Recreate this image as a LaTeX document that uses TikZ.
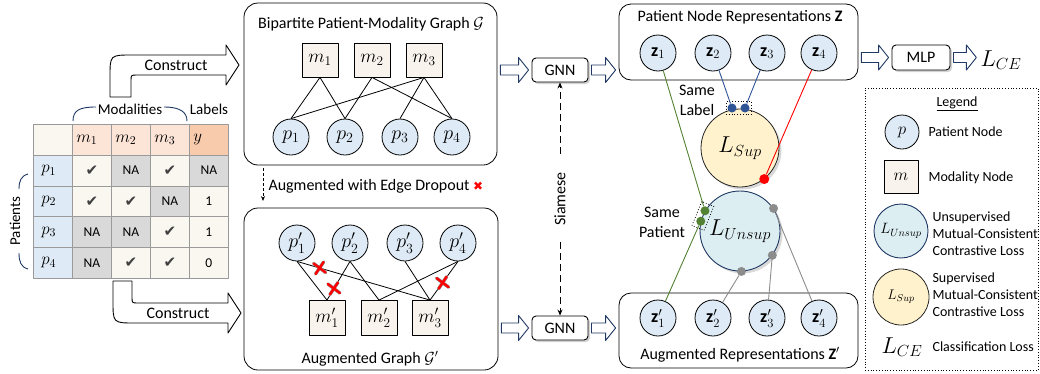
\documentclass[tikz,border=0pt]{standalone}
\usepackage{fix-cm}
\usepackage{amsmath}
\usepackage{fontspec}
\setmainfont{Carlito}
\newfontfamily\djv{DejaVu Sans}
\usetikzlibrary{shadows,arrows.meta,calc}
\newcommand{\fsz}[2]{\fontsize{#1}{#2}\selectfont}
\newcommand{\ck}{{\djv\fsz{15}{17}\textcolor{darkck}{✔}}}
\definecolor{pfill}{HTML}{DEEBF7}
\definecolor{mfill}{HTML}{F8F4ED}
\definecolor{hdr}{HTML}{FCE4D6}
\definecolor{yhdr}{HTML}{F8CBAD}
\definecolor{cream}{HTML}{FAF7F1}
\definecolor{nagray}{HTML}{D9D9D9}
\definecolor{tgray}{HTML}{9A9A9A}
\definecolor{navy}{HTML}{1F3864}
\definecolor{supfill}{HTML}{FFF2CC}
\definecolor{unsupfill}{HTML}{DDEEF3}
\definecolor{zgreen}{HTML}{548235}
\definecolor{zblue}{HTML}{2F5597}
\definecolor{zgray}{HTML}{8C8C8C}
\definecolor{arrowblue}{HTML}{203864}
\definecolor{darkck}{HTML}{404040}
\newcommand{\blockarrow}[2]{%
  \draw[harrow] let \p1=#1, \p2=#2 in
  (\x1+3pt,\y1+5pt) -- (\x2-13pt,\y1+5pt) -- (\x2-13pt,\y1+12.5pt) -- (\x2-3pt,\y1)
  -- (\x2-13pt,\y1-12.5pt) -- (\x2-13pt,\y1-5pt) -- (\x1+3pt,\y1-5pt) -- cycle;}
\begin{document}
\begin{tikzpicture}[x=1pt,y=-1pt,font=\fsz{16}{19},line join=round,
  pnode/.style={circle,draw,line width=0.8pt,fill=pfill,minimum size=36pt,inner sep=0pt,font=\fsz{20}{23}},
  mnode/.style={rectangle,draw,line width=0.8pt,fill=mfill,minimum width=36pt,minimum height=34pt,inner sep=0pt,font=\fsz{19}{22}},
  znode/.style={circle,draw,line width=0.8pt,fill=pfill,minimum size=36pt,inner sep=0pt,font=\fsz{18}{21}},
  gbox/.style={draw,line width=0.8pt,rounded corners=14pt},
  nnbox/.style={draw,line width=0.9pt,rounded corners=4pt,fill=white,minimum width=56pt,minimum height=24pt,inner sep=0pt,
     drop shadow={shadow xshift=2pt,shadow yshift=-2pt,opacity=0.35}},
  harrow/.style={draw=arrowblue,line width=0.9pt,fill=white},
  edge/.style={line width=0.8pt},
  cell/.style={draw=tgray,line width=0.6pt,minimum width=39pt,minimum height=30.8pt,inner xsep=2pt,inner ysep=0pt,
     text width=35pt,align=center,anchor=north west,font=\fsz{13.5}{16}},
  hcell/.style={cell,align=left,inner xsep=4pt,text width=31pt,font=\fsz{17}{20}},
  pcell/.style={cell,fill=pfill,align=left,inner xsep=8pt,text width=23pt,font=\fsz{17}{20}},
  ckc/.style={cell,fill=cream},
  nac/.style={cell,fill=nagray},
  lsup/.style={circle,draw=black!85,line width=0.8pt,fill=supfill,minimum size=78pt,inner sep=0pt,font=\fsz{23}{27},
     drop shadow={shadow xshift=2.5pt,shadow yshift=-2.5pt,opacity=0.3}},
  lunsup/.style={circle,draw=navy,line width=0.9pt,fill=unsupfill,minimum size=80pt,inner sep=0pt,font=\fsz{23}{27},
     drop shadow={shadow xshift=2.5pt,shadow yshift=-2.5pt,opacity=0.3}},
  dotn/.style={circle,inner sep=0pt,minimum size=9pt},
  siamdash/.style={line width=0.8pt,dash pattern=on 7pt off 4pt},
  legtext/.style={anchor=west,align=left,font=\fsz{14}{17}}
]
\useasboundingbox (0,0) rectangle (1040,373);

% ---------- table ----------
\node[cell,fill=cream] (t00) at (33,124) {};
\node[hcell,fill=hdr] (t01) at (72,124) {$m_1$};
\node[hcell,fill=hdr] (t02) at (111,124) {$m_2$};
\node[hcell,fill=hdr] (t03) at (150,124) {$m_3$};
\node[hcell,fill=yhdr] (t04) at (189,124) {$y$};
\node[pcell] (t10) at (33,154.8) {$p_1$};
\node[ckc] (t11) at (72,154.8) {\ck};
\node[nac] (t12) at (111,154.8) {NA};
\node[ckc] (t13) at (150,154.8) {\ck};
\node[nac] (t14) at (189,154.8) {NA};
\node[pcell] (t20) at (33,185.6) {$p_2$};
\node[ckc] (t21) at (72,185.6) {\ck};
\node[ckc] (t22) at (111,185.6) {\ck};
\node[nac] (t23) at (150,185.6) {NA};
\node[ckc] (t24) at (189,185.6) {1};
\node[pcell] (t30) at (33,216.4) {$p_3$};
\node[nac] (t31) at (72,216.4) {NA};
\node[nac] (t32) at (111,216.4) {NA};
\node[ckc] (t33) at (150,216.4) {\ck};
\node[ckc] (t34) at (189,216.4) {1};
\node[pcell] (t40) at (33,247.2) {$p_4$};
\node[nac] (t41) at (72,247.2) {NA};
\node[ckc] (t42) at (111,247.2) {\ck};
\node[ckc] (t43) at (150,247.2) {\ck};
\node[ckc] (t44) at (189,247.2) {0};

% brackets and labels
\node[font=\fsz{15}{18}] (modl) at (130,109) {Modalities};
\node[font=\fsz{15}{18}] (labl) at (209,109) {Labels};
\draw[navy,line width=0.9pt] (73,121) .. controls (73,110) and (80,107) .. (96,107);
\draw[navy,line width=0.9pt] (164,107) .. controls (180,107) and (187,112) .. (187,121);
\node[rotate=90,font=\fsz{15}{18}] (patl) at (15,221) {Patients};
\draw[navy,line width=0.9pt] (28,174) .. controls (21,176) and (19,181) .. (19,189);
\draw[navy,line width=0.9pt] (19,253) .. controls (19,262) and (21,267) .. (28,269);

% construct arrows
\draw[line width=0.9pt,fill=white] (110,97) -- (110,77) .. controls (110,55) .. (132,55) -- (226,55) -- (226,45)
  -- (239,65) -- (226,85) -- (226,75) -- (137,75) .. controls (131,75) .. (131,81) -- (131,97) -- cycle;
\node (con1) at (176,65) {Construct};
\draw[line width=0.9pt,fill=white] (113,281) -- (113,301) .. controls (113,323) .. (135,323) -- (228,323) -- (228,333)
  -- (241,313) -- (228,293) -- (228,303) -- (138,303) .. controls (132,303) .. (132,297) -- (132,281) -- cycle;
\node (con2) at (178,313) {Construct};

% ---------- top graph ----------
\node[gbox,minimum width=253pt,minimum height=162pt] (gtop) at (370.5,84) {};
\node (gtopt) at (371,24) {Bipartite Patient-Modality Graph $\mathcal{G}$};
\node[mnode] (m1) at (320,60) {$m_1$};
\node[mnode] (m2) at (372,60) {$m_2$};
\node[mnode] (m3) at (424,60) {$m_3$};
\node[pnode] (p1) at (291,137) {$p_1$};
\node[pnode] (p2) at (345,137) {$p_2$};
\node[pnode] (p3) at (400,137) {$p_3$};
\node[pnode] (p4) at (452,137) {$p_4$};
\draw[edge] (m1.south) -- (p1.north);
\draw[edge] (m1.south) -- (p2.north);
\draw[edge] (m2.south) -- (p2.north);
\draw[edge] (m2.south) -- (p4.north);
\draw[edge] (m3.south) -- (p1.north);
\draw[edge] (m3.south) -- (p3.north);
\draw[edge] (m3.south) -- (p4.north);

% dropout arrow
\coordinate (da0) at (263,168);
\coordinate (da1) at (263,201);
\draw[line width=0.8pt,dash pattern=on 3pt off 2pt,-{Stealth[length=5pt,width=4pt]}] (da0) -- (da1);
\node[anchor=west] (augt) at (265,186) {Augmented with Edge Dropout \textcolor{red}{\djv\fsz{12}{14}✖}};

% ---------- bottom graph ----------
\node[gbox,minimum width=254pt,minimum height=162pt] (gbot) at (371,289) {};
\node (gbott) at (370,359) {Augmented Graph $\mathcal{G}'$};
\node[pnode] (q1) at (297,243) {$p_1'$};
\node[pnode] (q2) at (350,243) {$p_2'$};
\node[pnode] (q3) at (405,243) {$p_3'$};
\node[pnode] (q4) at (458,243) {$p_4'$};
\node[mnode,minimum height=35pt] (n1) at (327,318) {$m_1'$};
\node[mnode,minimum height=35pt] (n2) at (379,318) {$m_2'$};
\node[mnode,minimum height=35pt] (n3) at (430,318) {$m_3'$};
\draw[edge] (q1.south) -- (n1.north);
\draw[edge] (q1.south) -- coordinate[pos=0.17] (x1) (n3.north);
\draw[edge] (q2.south) -- coordinate[pos=0.7] (x2) (n1.north);
\draw[edge] (q2.south) -- (n2.north);
\draw[edge] (q3.south) -- (n3.north);
\draw[edge] (q4.south) -- (n2.north);
\draw[edge] (q4.south) -- coordinate[pos=0.55] (x3) (n3.north);
\foreach \c in {x1,x2,x3}{
  \draw[black!40,line width=3.4pt,line cap=round] ($(\c)+(-6,-4.5)$) -- ($(\c)+(6,4.5)$) ($(\c)+(-4,6)$) -- ($(\c)+(4,-6)$);
  \draw[red,line width=2.4pt,line cap=round] ($(\c)+(-6,-4.5)$) -- ($(\c)+(6,4.5)$) ($(\c)+(-4,6)$) -- ($(\c)+(4,-6)$);
}

% ---------- GNN ----------
\node[nnbox] (gnn1) at (560,70) {GNN};
\node[nnbox] (gnn2) at (560,328) {GNN};

% ---------- Z boxes ----------
\node[gbox,rounded corners=12pt,minimum width=239pt,minimum height=76pt] (zbox) at (738.5,42) {};
\node (zt) at (740,17) {Patient Node Representations $\mathbf{Z}$};
\node[znode] (z1) at (658,53) {$\mathbf{z}_1$};
\node[znode] (z2) at (713,53) {$\mathbf{z}_2$};
\node[znode] (z3) at (767,53) {$\mathbf{z}_3$};
\node[znode] (z4) at (819,53) {$\mathbf{z}_4$};
\node[gbox,rounded corners=12pt,minimum width=239pt,minimum height=75pt] (zpbox) at (738.5,330.5) {};
\node (zpt) at (740,355) {Augmented Representations $\mathbf{Z}'$};
\node[znode] (w1) at (658,318) {$\mathbf{z}_1'$};
\node[znode] (w2) at (713,318) {$\mathbf{z}_2'$};
\node[znode] (w3) at (767,318) {$\mathbf{z}_3'$};
\node[znode] (w4) at (819,318) {$\mathbf{z}_4'$};

\blockarrow{(gtop.east|-gnn1.west)}{(gnn1.west)}
\blockarrow{(gnn1.east)}{(zbox.west|-gnn1.east)}
\blockarrow{(gbot.east|-gnn2.west)}{(gnn2.west)}
\blockarrow{(gnn2.east)}{(zpbox.west|-gnn2.east)}

% Siamese
\node[rotate=90] (siam) at (560,199) {Siamese};
\draw[siamdash,-{Stealth[length=6pt,width=5pt]}] ([yshift=15pt]siam.east) -- (gnn1.south);
\draw[siamdash,-{Stealth[length=6pt,width=5pt]}] ([yshift=-13pt]siam.west) -- (gnn2.north);

% ---------- losses ----------
\node[lsup] (Ls) at (740,148) {$L_{Sup}$};
\node[lunsup] (Lu) at (740,231) {$L_{Unsup}$};

\node[dotn,fill=zblue] (bd1) at (732,108) {};
\node[dotn,fill=zblue] (bd2) at (745,108) {};
\node[draw,dotted,line width=0.8pt,minimum width=25pt,minimum height=13pt,inner sep=0pt] (slbox) at (738.5,108) {};
\draw[zblue,line width=0.9pt] (z2) -- (bd1);
\draw[zblue,line width=0.9pt] (z3) -- (bd2);
\node[align=center,font=\fsz{16}{20}] (slab) at (697,100) {Same\\Label};

\node[dotn,fill=red,minimum size=10pt] (rd) at (Ls.-52) {};
\draw[red,line width=0.9pt] (z4) -- (rd);

\node[dotn,fill=zgreen] (gd1) at (Lu.150) {};
\node[dotn,fill=zgreen] (gd2) at (Lu.166) {};
\node[draw,dotted,line width=0.8pt,rotate=68,minimum width=26pt,minimum height=13pt,inner sep=0pt] (spbox) at ($(gd1)!0.5!(gd2)$) {};
\draw[zgreen,line width=0.9pt] (z1) -- (gd1);
\draw[zgreen,line width=0.9pt] (gd2) -- (w1);
\node[align=center,font=\fsz{16}{20}] (spat) at (662,222) {Same\\Patient};

\node[dotn,fill=zgray] (gy1) at (Lu.34) {};
\node[dotn,fill=zgray] (gy2) at (Lu.-37) {};
\node[dotn,fill=zgray] (gy3) at (Lu.-88) {};
\draw[zgray,line width=0.9pt] (w4) -- (gy1);
\draw[zgray,line width=0.9pt] (w3) -- (gy2);
\draw[zgray,line width=0.9pt] (w2) -- (gy3);

% ---------- MLP ----------
\node[nnbox,minimum width=58pt,minimum height=25pt] (mlp) at (921,57.5) {MLP};
\node[font=\fsz{23}{27},inner sep=1pt] (lce) at (1001,60) {$L_{CE}$};
\blockarrow{(zbox.east|-mlp.west)}{(mlp.west)}
\blockarrow{(mlp.east)}{(lce.west)}

% ---------- legend ----------
\node[draw,dotted,line width=0.8pt,minimum width=173pt,minimum height=282pt] (leg) at (951.5,229) {};
\node[font=\fsz{14}{17}] (legt) at (957,104) {\underline{Legend}};
\node[pnode,minimum size=34pt,font=\fsz{17}{20}] (lp) at (902,132) {$p$};
\node[legtext] (lpt) at (925,132) {Patient Node};
\node[mnode,minimum width=34pt,minimum height=33pt,font=\fsz{17}{20}] (lm) at (901,177) {$m$};
\node[legtext] (lmt) at (925,178) {Modality Node};
\node[circle,draw=navy,line width=0.9pt,fill=unsupfill,minimum size=54pt,inner sep=0pt,font=\fsz{15}{18}] (lu) at (901,231) {$L_{Unsup}$};
\node[legtext] (lut) at (929,234) {Unsupervised\\Mutual-Consistent\\Contrastive Loss};
\node[circle,draw=black!85,line width=0.8pt,fill=supfill,minimum size=56pt,inner sep=0pt,font=\fsz{14}{17}] (ls) at (901,297) {$L_{Sup}$};
\node[legtext] (lst) at (929,295) {Supervised\\Mutual-Consistent\\Contrastive Loss};
\node[font=\fsz{23}{27}] (lce2) at (902,347) {$L_{CE}$};
\node[legtext] (lcet) at (929,347) {Classification Loss};
\end{tikzpicture}
\end{document}
